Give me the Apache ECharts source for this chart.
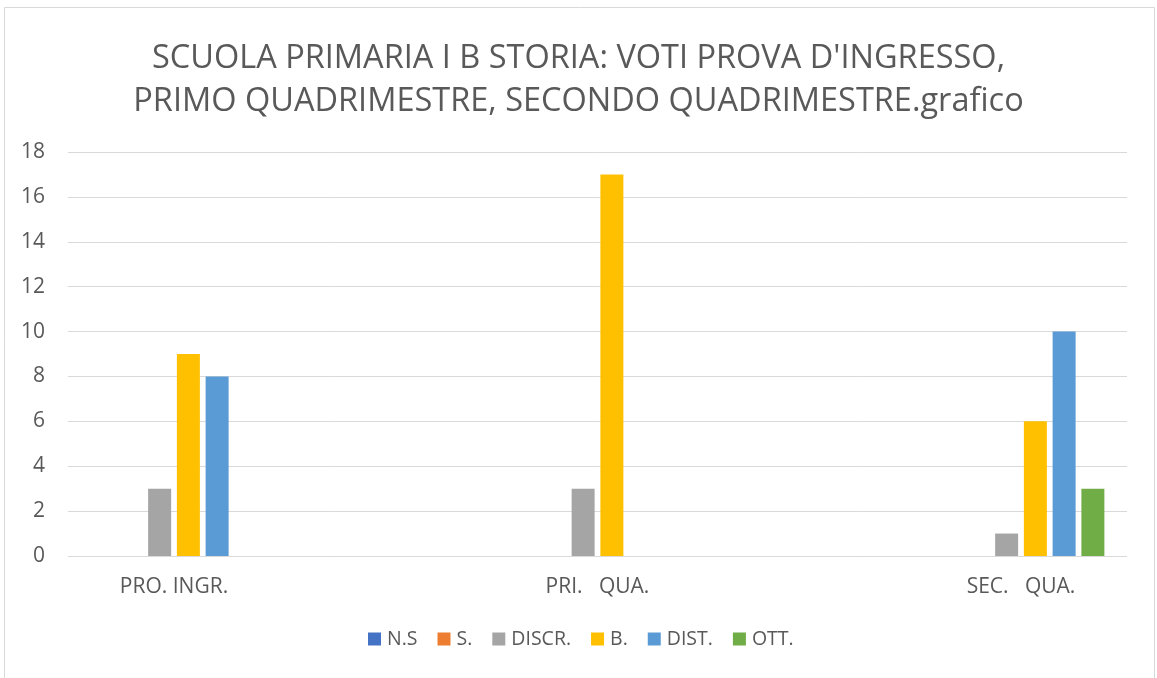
<!DOCTYPE html>
<html>
<head>
<meta charset="utf-8">
<script src="https://cdn.jsdelivr.net/npm/echarts@6/dist/echarts.min.js"></script>
<style>
html,body{margin:0;padding:0;background:#fff;}
#chart{width:1157px;height:678px;}
</style>
</head>
<body>
<div id="chart"></div>
<script>
const titleLines = ["SCUOLA PRIMARIA I B STORIA: VOTI PROVA D'INGRESSO,", "PRIMO QUADRIMESTRE, SECONDO QUADRIMESTRE.grafico"];
const categories = ["PRO. INGR.", "PRI.   QUA.", "SEC.   QUA."];
const seriesNames = ["N.S", "S.", "DISCR.", "B.", "DIST.", "OTT."];
const seriesColors = ["#4472C4", "#ED7D31", "#A5A5A5", "#FFC000", "#5B9BD5", "#70AD47"];
const valNS = [0, 0, 0];
const valS = [0, 0, 0];
const valDISCR = [3, 3, 1];
const valB = [9, 17, 6];
const valDIST = [8, 0, 10];
const valOTT = [0, 0, 3];
const seriesValues = [valNS, valS, valDISCR, valB, valDIST, valOTT];
const yTicks = {min: 0, max: 18, interval: 2};

const FONT = "'Open Sans', 'Noto Sans', sans-serif";
const chart = echarts.init(document.getElementById('chart'), null, {renderer: 'canvas'});

const option = {
  backgroundColor: '#ffffff',
  animation: false,
  title: {
    text: titleLines.join('\n'),
    left: 'center',
    top: 32,
    textStyle: {fontFamily: FONT, fontSize: 32.5, fontWeight: 'normal', color: '#595959', lineHeight: 43}
  },
  graphic: [{
    type: 'rect',
    shape: {x: 4.5, y: 7.5, width: 1150, height: 720},
    style: {fill: 'none', stroke: '#d9d9d9', lineWidth: 1},
    silent: true
  }],
  legend: {
    data: seriesNames,
    left: 368,
    top: 629,
    padding: 0,
    itemWidth: 13,
    itemHeight: 13,
    itemGap: 20,
    icon: 'rect',
    textStyle: {fontFamily: FONT, fontSize: 19.5, color: '#595959', padding: [0, 0, 0, 1]}
  },
  grid: [
    {left: 68, right: 30, top: 152, bottom: 122, containLabel: false},
    {left: 174, right: 136, top: 152, bottom: 122, containLabel: false}
  ],
  xAxis: [
    {type: 'value', gridIndex: 0, show: false, min: 0, max: 1},
    {
      type: 'category', gridIndex: 1, data: categories, boundaryGap: false,
      axisLine: {show: false}, axisTick: {show: false},
      axisLabel: {fontFamily: FONT, fontSize: 21, color: '#595959', margin: 21}
    }
  ],
  yAxis: [
    {
      type: 'value', gridIndex: 0, min: yTicks.min, max: yTicks.max, interval: yTicks.interval,
      axisLine: {show: false}, axisTick: {show: false},
      splitLine: {show: true, lineStyle: {color: '#d9d9d9', width: 1}},
      axisLabel: {fontFamily: FONT, fontSize: 21, color: '#595959', margin: 23}
    },
    {type: 'value', gridIndex: 1, min: yTicks.min, max: yTicks.max, interval: yTicks.interval, show: false}
  ],
  series: seriesNames.map((name, i) => ({
    name: name,
    type: 'bar',
    xAxisIndex: 1,
    yAxisIndex: 1,
    data: seriesValues[i],
    barWidth: 23,
    barGap: '25%',
    itemStyle: {color: seriesColors[i]}
  }))
};
chart.setOption(option);
</script>
</body>
</html>
